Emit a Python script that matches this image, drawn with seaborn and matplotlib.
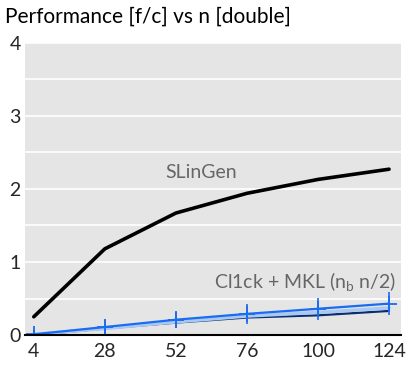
import pandas as pd
import matplotlib.pyplot as plt
import seaborn as sns

# Data
n_values = [4, 28, 52, 76, 100, 124]
slingen = [0.25, 1.18, 1.67, 1.94, 2.13, 2.27]
clck_mkl = [0.01, 0.11, 0.21, 0.29, 0.36, 0.43]
clck_mkl_err = [0.06, 0.1, 0.12, 0.14, 0.15, 0.16]
clck_light = [0.01, 0.09, 0.18, 0.26, 0.31, 0.37]
clck_dark = [0.0, 0.09, 0.17, 0.24, 0.27, 0.33]

sns.set_theme(style="darkgrid")
plt.rcParams['font.family'] = ['Lato', 'DejaVu Sans']

df = pd.DataFrame({'n': n_values, 'SLinGen': slingen, 'MKL': clck_mkl,
                   'light': clck_light, 'dark': clck_dark})

fig = plt.figure(figsize=(4.15, 3.69), dpi=100)
ax = fig.add_axes([0.060, 0.092, 0.906, 0.792])
ax.set_facecolor('#e5e5e5')

sns.lineplot(data=df, x='n', y='dark', color='#0b2e6b', lw=1.6, ax=ax)
sns.lineplot(data=df, x='n', y='light', color='#a9c9f5', lw=2.5, ax=ax)
ax.errorbar(n_values, clck_mkl, yerr=clck_mkl_err, fmt='none', ecolor='#1a6cf0',
            elinewidth=1.2, capsize=0)
sns.lineplot(data=df, x='n', y='MKL', color='#1a6cf0', lw=1.6, marker='+',
             markersize=12, markeredgewidth=1.3, markeredgecolor='#1a6cf0', ax=ax)
sns.lineplot(data=df, x='n', y='SLinGen', color='black', lw=2.6, ax=ax)

ax.set_xlim(1, 128)
ax.set_ylim(0, 4)
ax.set_xticks(n_values)
ax.set_yticks([0, 1, 2, 3, 4])
ax.set_yticks([0.5, 1.5, 2.5, 3.5], minor=True)
ax.grid(which='both', axis='y', color='white', lw=1.2)
ax.grid(False, axis='x')
ax.tick_params(axis='both', labelsize=14, length=0, pad=3)
ax.tick_params(axis='x', pad=6)
ax.set_xlabel('')
ax.set_ylabel('')
for s in ['top', 'right', 'left']:
    ax.spines[s].set_visible(False)
ax.spines['bottom'].set_visible(True)
ax.spines['bottom'].set_color('black')
ax.spines['bottom'].set_linewidth(1.5)

ax.text(48.5, 2.22, 'SLinGen', fontsize=14, color='#666666', va='center')
ax.text(65, 0.72, 'Cl1ck + MKL (n$_\\mathregular{b}$ n/2)', fontsize=14, color='#666666',
        va='center')

fig.text(0.012, 0.955, 'Performance [f/c] vs n [double]', fontsize=15, color='black',
         va='center')

fig.savefig('out.png', dpi=100)
